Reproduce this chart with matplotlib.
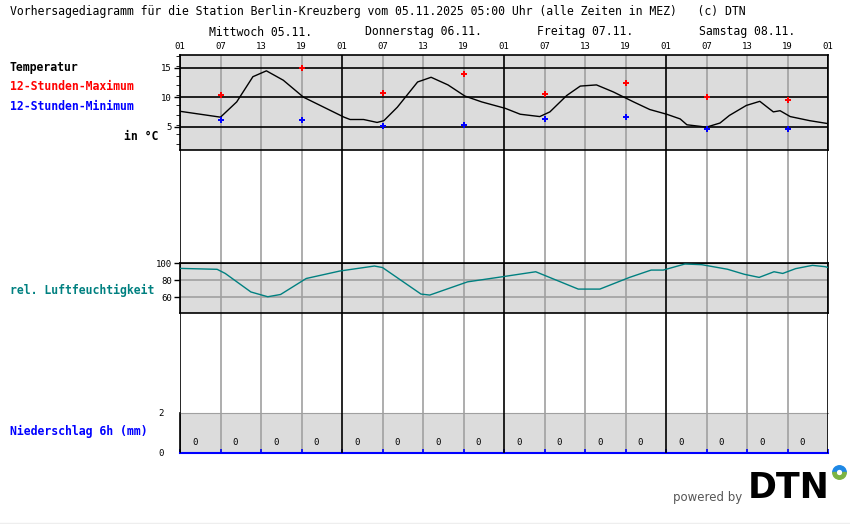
import numpy as np
import matplotlib.pyplot as plt
from matplotlib.patches import Wedge

plt.rcParams['font.family'] = ['DejaVu Sans Mono', 'DejaVu Sans']

# hours since Wed 05.11. 01:00
temp_h = [0, 6, 8.4, 10.8, 12.8, 15.3, 18.3, 21.3, 24.3, 25.2, 27.2, 29.2, 30.2, 32.2, 35.2,
          37.2, 39.7, 42.2, 44.7, 48.2, 50.4, 53.3, 54.8, 57.3, 59.3, 61.7, 64.2, 67.2, 69.6,
          72.1, 74.1, 75.1, 78, 80, 81.4, 83.9, 85.9, 87.9, 88.9, 90.4, 93.3, 96]
temp = [7.6, 6.6, 9.2, 13.5, 14.5, 12.9, 10.0, 8.3, 6.6, 6.2, 6.2, 5.7, 6.0, 8.3, 12.6,
        13.4, 12.1, 10.2, 9.2, 8.1, 7.1, 6.7, 7.5, 10.3, 11.9, 12.1, 10.9, 9.2, 7.9,
        7.1, 6.3, 5.3, 4.9, 5.6, 6.9, 8.6, 9.3, 7.5, 7.7, 6.7, 6.0, 5.5]
mm_h = [6, 18, 30, 42, 54, 66, 78, 90]
t_max = [10.3, 15.0, 10.8, 13.9, 10.5, 12.5, 10.0, 9.6]
t_min = [6.2, 6.2, 5.1, 5.3, 6.3, 6.7, 4.6, 4.6]

hum_h = [0, 5.5, 6.7, 10.5, 13.0, 14.9, 18.7, 23.7, 28.8, 30.0, 35.7, 37, 42.6, 47.7, 52.7,
         59.0, 62.2, 66.6, 69.8, 71.6, 74.8, 77.3, 81.1, 83.6, 85.8, 88.0, 89.3, 91.2, 93.7,
         95.6, 96]
hum = [94, 92.9, 88, 66, 60.3, 63, 82, 90.9, 96.8, 95, 63.5, 62.3, 78, 84, 90,
       69.4, 69.4, 83.3, 92, 92, 99.2, 98.4, 93, 87, 83.3, 90, 88, 93.7, 97.6, 96, 95]

rain_h = [3 + 6 * i for i in range(16)]
rain = [0] * 16

days = ['Mittwoch 05.11.', 'Donnerstag 06.11.', 'Freitag 07.11.', 'Samstag 08.11.']
hour_labels = ['01', '07', '13', '19'] * 4 + ['01']

W, H = 850, 524
fig = plt.figure(figsize=(8.5, 5.24), dpi=100)


def rect(top, bottom):
    return [180 / W, 1 - bottom / H, 648 / W, (bottom - top) / H]


def vlines(ax):
    for h in range(0, 97, 6):
        if h % 24 == 0:
            ax.axvline(h, color='black', lw=1.2, zorder=3)
        else:
            ax.axvline(h, color='#a0a0a0', lw=1.2, zorder=1)


bg = fig.add_axes(rect(55, 453))
bg.set_xlim(0, 96)
bg.set_ylim(0, 1)
vlines(bg)
bg.set_yticks([])
bg.set_xticks(range(0, 97, 6))
bg.set_xticklabels(hour_labels, fontsize=6.5)
bg.tick_params(axis='x', top=True, labeltop=True, bottom=False, labelbottom=False, length=0, pad=3)
for s in bg.spines.values():
    s.set_visible(False)
for i, d in enumerate(days):
    fig.text((180 + 81 + 162 * i) / W, 1 - 32 / H, d, ha='center', va='center', fontsize=8.3)

# temperature
at = fig.add_axes(rect(55, 150))
at.set_facecolor('#dcdcdc')
at.set_xlim(0, 96)
at.set_ylim(1, 17.2)
vlines(at)
for v in [5, 10, 15]:
    at.axhline(v, color='black', lw=1.2, zorder=2)
at.plot(temp_h, temp, color='black', lw=1, zorder=4)
at.scatter(mm_h, t_max, color='red', marker='P', s=16, lw=0, zorder=5)
at.scatter(mm_h, t_min, color='blue', marker='P', s=16, lw=0, zorder=5)
at.set_xticks([])
at.set_yticks([5, 10, 15])
at.set_yticks(np.arange(2, 17.2, 5 / 3), minor=True)
at.tick_params(axis='y', labelsize=6.5, length=4, width=1, pad=2)
at.tick_params(axis='y', which='minor', length=3)
for s in at.spines.values():
    s.set_linewidth(1.2)

# humidity
ah = fig.add_axes(rect(263, 313))
ah.set_facecolor('#dcdcdc')
ah.set_xlim(0, 96)
ah.set_ylim(41, 100.4)
vlines(ah)
ah.axhline(100, color='black', lw=1.2, zorder=2)
for v in [60, 80]:
    ah.axhline(v, color='#a0a0a0', lw=1.2, zorder=2)
ah.plot(hum_h, hum, color='#008080', lw=1, zorder=4)
ah.set_xticks([])
ah.set_yticks([60, 80, 100])
ah.tick_params(axis='y', labelsize=6.5, length=4, width=1, pad=2)
for s in ah.spines.values():
    s.set_linewidth(1.2)

# precipitation
ap = fig.add_axes(rect(413, 453))
ap.set_facecolor('#dcdcdc')
ap.set_xlim(0, 96)
ap.set_ylim(0, 2)
vlines(ap)
for h, r in zip(rain_h, rain):
    ap.text(h - 0.8, 0.4, str(r), ha='center', fontsize=6.5, zorder=5)
ap.set_xticks(range(0, 97, 6))
ap.set_xticklabels([])
ap.tick_params(axis='x', direction='in', length=3, color='blue', width=1.2)
ap.set_yticks([0, 2])
ap.tick_params(axis='y', labelsize=6.5, length=0, pad=12)
ap.spines['right'].set_visible(False)
ap.spines['top'].set_color('#a0a0a0')
ap.spines['left'].set_linewidth(1.2)
ap.spines['bottom'].set_color('blue')
ap.spines['bottom'].set_linewidth(1.5)

# texts
def ftext(x, y, s, **kw):
    fig.text(x / W, 1 - y / H, s, va='center', **kw)

ftext(10, 12, 'Vorhersagediagramm für die Station Berlin-Kreuzberg vom 05.11.2025 05:00 Uhr (alle Zeiten in MEZ)   (c) DTN', fontsize=8.3)
ftext(10, 67, 'Temperatur', fontsize=8.3, fontweight='bold')
ftext(10, 87, '12-Stunden-Maximum', fontsize=8.3, fontweight='bold', color='red')
ftext(10, 107, '12-Stunden-Minimum', fontsize=8.3, fontweight='bold', color='blue')
ftext(158, 136, 'in °C', fontsize=8.3, fontweight='bold', ha='right')
ftext(10, 290, 'rel. Luftfeuchtigkeit', fontsize=8.3, fontweight='bold', color='#008080')
ftext(10, 431, 'Niederschlag 6h (mm)', fontsize=8.3, fontweight='bold', color='blue')

ftext(742, 497, 'powered by', fontsize=8.5, color='#555555', ha='right', family='DejaVu Sans')
ftext(748, 488, 'DTN', fontsize=25, fontweight='heavy', color='black', family='DejaVu Sans')
la = fig.add_axes([832 / W, 1 - 480 / H, 15 / W, 15 / H])
la.set_aspect('equal')
la.axis('off')
la.set_xlim(-1, 1)
la.set_ylim(-1, 1)
la.add_patch(Wedge((0, 0), 0.9, 0, 180, width=0.45, color='#1e88e5'))
la.add_patch(Wedge((0, 0), 0.9, 180, 360, width=0.45, color='#7cb342'))
fig.add_artist(plt.Line2D([0, 1], [1 / H, 1 / H], color='#eeeeee', lw=1))

fig.savefig('out.png', dpi=100)
